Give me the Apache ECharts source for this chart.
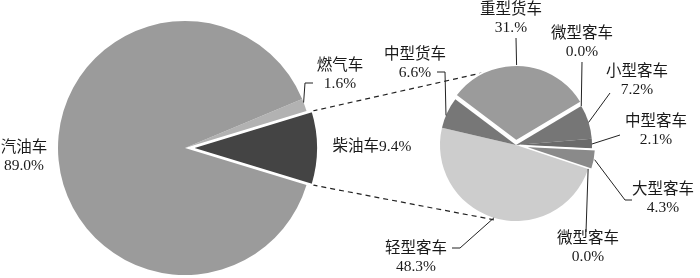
<!DOCTYPE html>
<html><head><meta charset="utf-8">
<script src="https://cdn.jsdelivr.net/npm/echarts@6/dist/echarts.min.js"></script>
<style>html,body{margin:0;padding:0;background:#fff}#c{width:700px;height:278px}</style>
</head><body><div id="c"></div>
<script>
// ---- data ----
const mainNames = ['燃气车', '柴油车', '汽油车'];
const mainValues = [1.6, 9.4, 89.0];
const mainPct = ['1.6%', '9.4%', '89.0%'];
const subNames = ['重型货车', '微型客车', '小型客车', '中型客车', '大型客车', '微型客车', '轻型客车', '中型货车'];
const subValues = [31, 0, 7.2, 2.1, 4.3, 0, 48.3, 6.6];
const subPct = ['31.%', '0.0%', '7.2%', '2.1%', '4.3%', '0.0%', '48.3%', '6.6%'];

// ---- style / layout ----
const BIG = { cx: 185, cy: 148, r: 127, offset: 6 };
const SMALL = { cx: 516, cy: 145, r: 76, offset: 4, start: 143 };
const mainColors = ['#b2b2b2', '#444444', '#9b9b9b'];
const subColors = ['#9b9b9b', '#888888', '#767676', '#6a6a6a', '#8a8a8a', '#888888', '#cdcdcd', '#777777'];
const mainLabelPos = [[340, 75], [372, 147], [24, 157]];
const subLabelPos = [[511, 19], [582, 43], [637, 81], [656, 131], [663, 199], [588, 248], [416, 258], [415, 64]];
// where along each slice the leader line starts (0..1) and its bend points
const mainAnchorFrac = [0.3, 0.5, 0.5];
const mainLeader = [[[305, 83], [313, 83]], [], []];
const subAnchorFrac = [0.475, 0, 0.52, 0.53, 0.5, 0, 0.506, 0.41];
const subLeader = [[[516, 38]], [[582, 62]], [[610, 93]], [[620, 135]], [[625, 200], [632, 200]],
  [[586, 232]], [[460, 248], [452, 248]], [[445, 72], [437, 72]]];

const font = '"Liberation Serif","Noto Sans CJK SC",serif';
const rad = d => d * Math.PI / 180;
const sum = a => a.reduce((x, y) => x + y, 0);
const mainTotal = sum(mainValues);
const mainStart = (mainValues[0] + mainValues[1] / 2) / mainTotal * 360;
const dieselHalf = mainValues[1] / 2 / mainTotal * 360;

// slice angles (degrees, counter-clockwise from 3 o'clock, pie runs clockwise)
function sliceAngles(values, start) {
  const t = sum(values); let a = start;
  return values.map(v => { const s = a; a -= v / t * 360; return [s, a]; });
}
const mainAng = sliceAngles(mainValues, mainStart);
const subAng = sliceAngles(subValues, SMALL.start);
function anchor(geo, ang, frac, exploded) {
  const a = rad(ang[0] + (ang[1] - ang[0]) * frac);
  const mid = rad((ang[0] + ang[1]) / 2);
  const off = exploded ? geo.offset : 0;
  return [geo.cx + off * Math.cos(mid) + geo.r * Math.cos(a), geo.cy - off * Math.sin(mid) - geo.r * Math.sin(a)];
}

const p1 = [BIG.cx + BIG.offset + BIG.r * Math.cos(rad(dieselHalf)), BIG.cy - BIG.r * Math.sin(rad(dieselHalf))];
const p2 = [BIG.cx + BIG.offset + BIG.r * Math.cos(rad(dieselHalf)), BIG.cy + BIG.r * Math.sin(rad(dieselHalf))];
const tangA = 106.5, rr = SMALL.r + 2;
const q1 = [SMALL.cx + rr * Math.cos(rad(tangA)), SMALL.cy - rr * Math.sin(rad(tangA))];
const q2 = [SMALL.cx + rr * Math.cos(rad(tangA)), SMALL.cy + rr * Math.sin(rad(tangA))];

const labelStyle = { fontFamily: font, fontSize: 15.5, lineHeight: 18, color: '#1a1a1a' };
const clear = 'rgba(0,0,0,0)';

function visiblePie(geo, start, names, values, colors, exploded) {
  return {
    type: 'pie', center: [geo.cx, geo.cy], radius: geo.r, startAngle: start, clockwise: true,
    selectedMode: 'multiple', selectedOffset: geo.offset, silent: true, z: 2,
    label: { show: false }, labelLine: { show: false }, emphasis: { disabled: true },
    data: names.map((n, i) => ({
      name: n, value: values[i], selected: exploded.includes(i),
      itemStyle: { color: colors[i], borderColor: '#fff', borderWidth: exploded.includes(i) ? 2 : 0 }
    }))
  };
}
function labelPie(geo, start, names, values, pos, fmt, angs, fracs, leaders, exploded) {
  return {
    type: 'pie', center: [geo.cx, geo.cy], radius: geo.r, startAngle: start, clockwise: true,
    avoidLabelOverlap: false, silent: true, z: 3,
    itemStyle: { color: clear, borderWidth: 0 },
    label: Object.assign({ show: true, position: 'outside', align: 'center' }, labelStyle, { formatter: fmt }),
    labelLine: { show: true, length: 6, length2: 6, lineStyle: { color: '#222', width: 1 } },
    labelLayout: p => {
      const i = p.dataIndex;
      const o = { x: pos[i][0], y: pos[i][1], align: 'center', verticalAlign: 'middle' };
      if (leaders[i].length) o.labelLinePoints = [anchor(geo, angs[i], fracs[i], exploded.includes(i))].concat(leaders[i]);
      return o;
    },
    emphasis: { disabled: true },
    data: names.map((n, i) => ({ name: n, value: values[i], labelLine: { show: leaders[i].length > 0 } }))
  };
}

const chart = echarts.init(document.getElementById('c'), null, { renderer: 'canvas' });
chart.setOption({
  backgroundColor: '#fff',
  animation: false,
  graphic: [
    { type: 'line', z: 0, shape: { x1: p1[0], y1: p1[1], x2: q1[0], y2: q1[1] }, style: { stroke: '#222', lineWidth: 1.2, lineDash: [5, 4] } },
    { type: 'line', z: 0, shape: { x1: p2[0], y1: p2[1], x2: q2[0], y2: q2[1] }, style: { stroke: '#222', lineWidth: 1.2, lineDash: [5, 4] } }
  ],
  series: [
    visiblePie(BIG, mainStart, mainNames, mainValues, mainColors, [1]),
    visiblePie(SMALL, SMALL.start, subNames, subValues, subColors, [0, 4]),
    labelPie(BIG, mainStart, mainNames, mainValues, mainLabelPos,
      p => p.dataIndex === 1 ? p.name + mainPct[p.dataIndex] : p.name + '\n' + mainPct[p.dataIndex],
      mainAng, mainAnchorFrac, mainLeader, [1]),
    labelPie(SMALL, SMALL.start, subNames, subValues, subLabelPos,
      p => p.name + '\n' + subPct[p.dataIndex], subAng, subAnchorFrac, subLeader, [0, 4])
  ]
});
</script></body></html>
